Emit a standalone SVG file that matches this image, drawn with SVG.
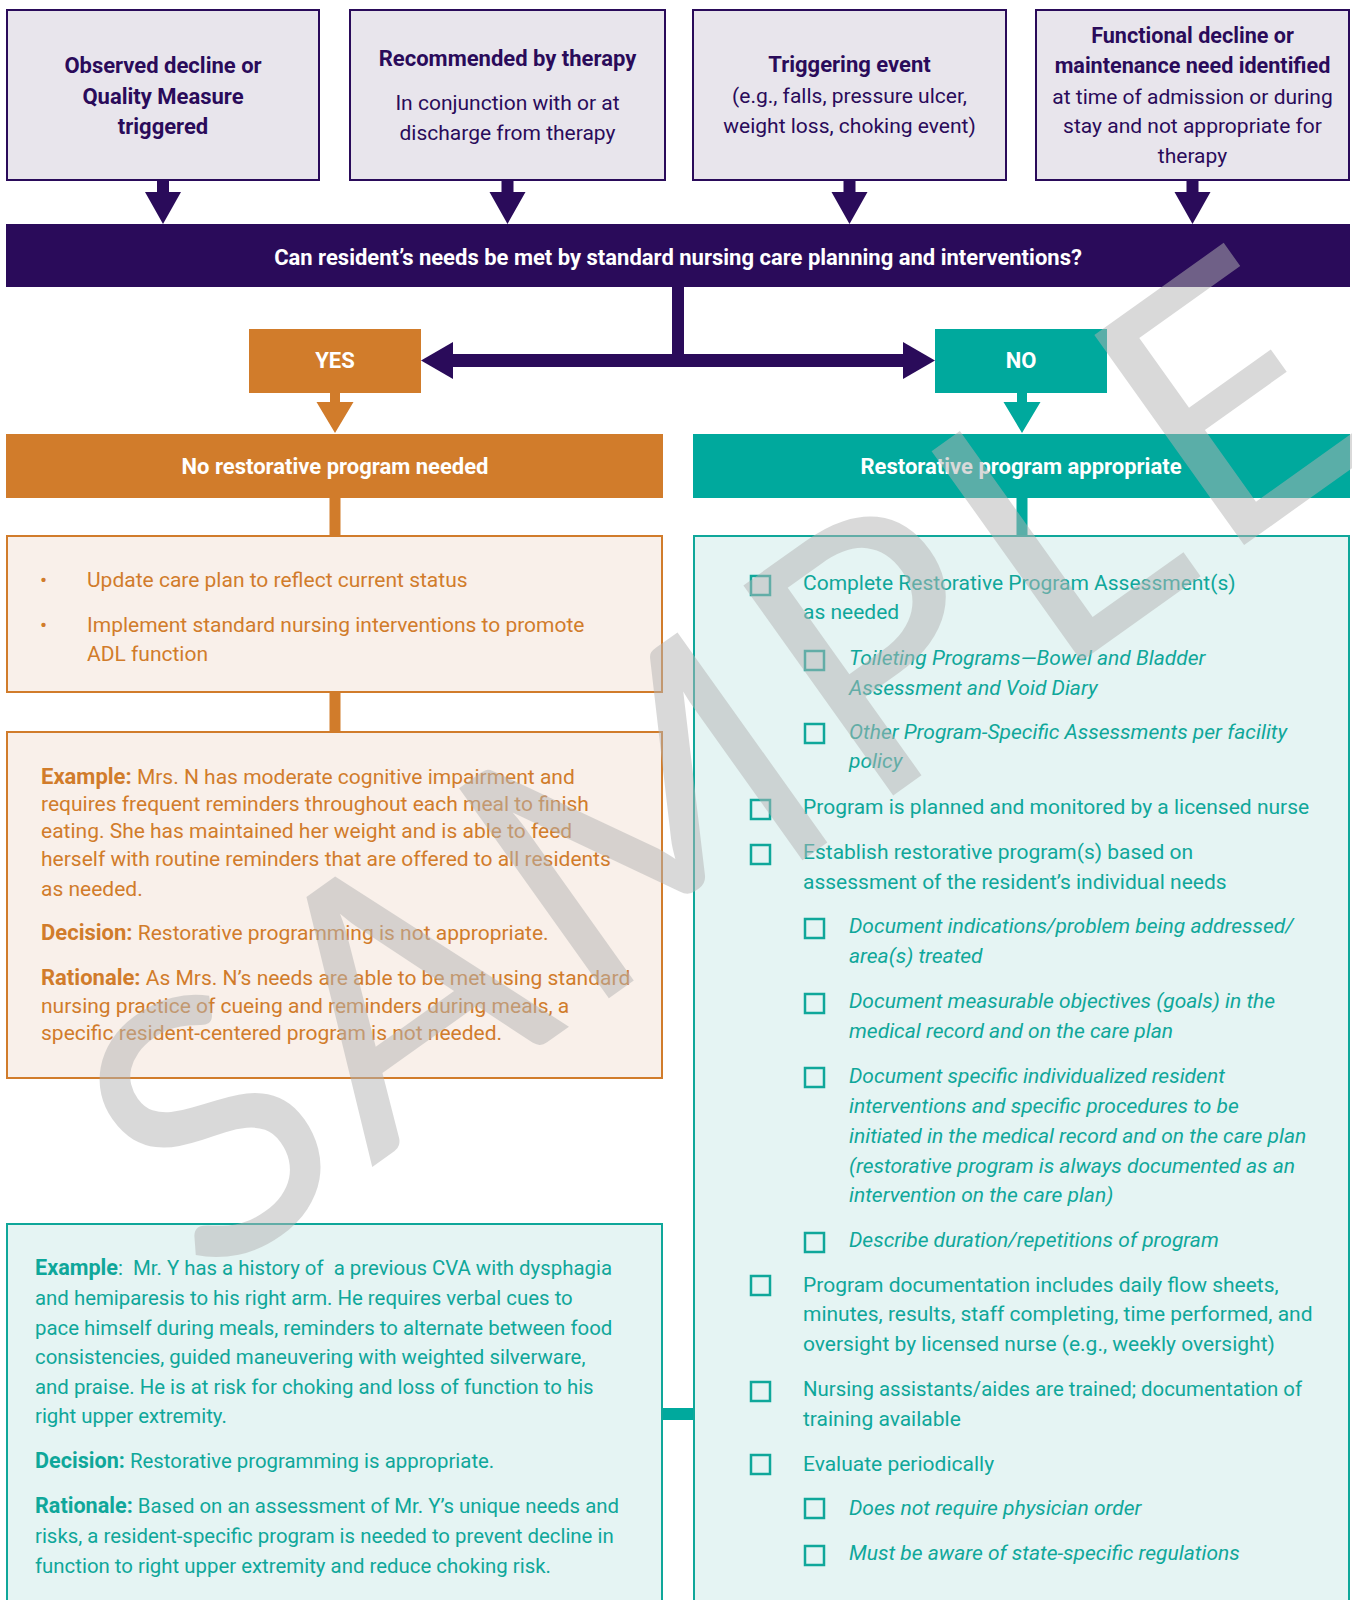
<svg xmlns="http://www.w3.org/2000/svg" width="1352" height="1600" viewBox="0 0 1352 1600">
<style>
.t{font-family:Roboto,"Liberation Sans",sans-serif;font-size:21px}
.c{text-anchor:middle}
.b{font-weight:700}
.h{font-size:22px}
.i{font-style:italic}
.s{font-size:20.4px}
.bs{font-weight:700;font-size:21.6px}
.pur{fill:#2A0B5A}
.org{fill:#D17C2B}
.tea{fill:#0FA79A}
.wh{fill:#fff}
.src{fill:#E8E5EC;stroke:#2A0B5A;stroke-width:2}
.cb{fill:none;stroke:#0FA79A;stroke-width:2.5}
.peach{fill:#F9F0EA;stroke:#D17C2B;stroke-width:2}
.lt{fill:#E5F4F3;stroke:#0FA79A;stroke-width:2}
</style>
<rect width="1352" height="1600" fill="#fff"/>
<g id="connectors">
<g fill="#2A0B5A">
<polygon points="157,181 169,181 169,192 181,192 163,224 145,192 157,192"/>
<polygon points="501.5,181 513.5,181 513.5,192 525.5,192 507.5,224 489.5,192 501.5,192"/>
<polygon points="843.5,181 855.5,181 855.5,192 867.5,192 849.5,224 831.5,192 843.5,192"/>
<polygon points="1186.5,181 1198.5,181 1198.5,192 1210.5,192 1192.5,224 1174.5,192 1186.5,192"/>
<rect x="672" y="287" width="12" height="80"/>
<rect x="453" y="354" width="450" height="13"/>
<polygon points="453,342 453,379 421,360.5"/>
<polygon points="903,342 903,379 935,360.5"/>
</g>
<g fill="#D17C2B">
<polygon points="330,393 340,393 340,402 353.5,402 335,433 316.5,402 330,402"/>
<rect x="329.5" y="498" width="11" height="38"/>
<rect x="329.5" y="692" width="11" height="40"/>
</g>
<g fill="#00A99D">
<polygon points="1017,393 1027,393 1027,402 1040.5,402 1022,433 1003.5,402 1017,402"/>
<rect x="1016.5" y="498" width="11" height="38"/>
<rect x="662" y="1408" width="32" height="12"/>
</g>
</g>
<g id="src1"><rect class="src" x="7" y="10" width="312" height="170"/>
<text class="t c b h pur" x="163" y="73">Observed decline or</text>
<text class="t c b h pur" x="163" y="104">Quality Measure</text>
<text class="t c b h pur" x="163" y="134">triggered</text></g>
<g id="src2"><rect class="src" x="350" y="10" width="315" height="170"/>
<text class="t c b h pur" x="507.5" y="66">Recommended by therapy</text>
<text class="t c pur" x="507.5" y="110">In conjunction with or at</text>
<text class="t c pur" x="507.5" y="140">discharge from therapy</text></g>
<g id="src3"><rect class="src" x="693" y="10" width="313" height="170"/>
<text class="t c b h pur" x="849.5" y="72">Triggering event</text>
<text class="t c pur" x="849.5" y="103">(e.g., falls, pressure ulcer,</text>
<text class="t c pur" x="849.5" y="133">weight loss, choking event)</text></g>
<g id="src4"><rect class="src" x="1036" y="10" width="313" height="170"/>
<text class="t c b pur" x="1192.5" y="43" style="font-size:21.6px">Functional decline or</text>
<text class="t c b pur" x="1192.5" y="73" style="font-size:21.6px">maintenance need identified</text>
<text class="t c pur" x="1192.5" y="104">at time of admission or during</text>
<text class="t c pur" x="1192.5" y="133">stay and not appropriate for</text>
<text class="t c pur" x="1192.5" y="163">therapy</text></g>
<g id="question"><rect x="6" y="224" width="1344" height="63" fill="#2A0B5A"/>
<text class="t c b h wh" x="678" y="265">Can resident’s needs be met by standard nursing care planning and interventions?</text></g>
<g id="yes"><rect x="249" y="329" width="172" height="64" fill="#D17C2B"/>
<text class="t c b h wh" x="335" y="368">YES</text></g>
<g id="no"><rect x="935" y="329" width="172" height="64" fill="#00A99D"/>
<text class="t c b h wh" x="1021" y="368">NO</text></g>
<g id="no-program"><rect x="6" y="434" width="657" height="64" fill="#D17C2B"/>
<text class="t c b h wh" x="335" y="474">No restorative program needed</text></g>
<g id="program"><rect x="693" y="434" width="657" height="64" fill="#00A99D"/>
<text class="t c b h wh" x="1021" y="474">Restorative program appropriate</text></g>
<g id="standard-care"><rect class="peach" x="7" y="536" width="655" height="156"/>
<text class="t org" x="40" y="587">•</text>
<text class="t org" x="87" y="587">Update care plan to reflect current status</text>
<text class="t org" x="40" y="632">•</text>
<text class="t org" x="87" y="632">Implement standard nursing interventions to promote</text>
<text class="t org" x="87" y="661">ADL function</text></g>
<g id="example-n"><rect class="peach" x="7" y="732" width="655" height="346"/>
<text class="t org" x="41" y="784"><tspan class="b h">Example:</tspan> Mrs. N has moderate cognitive impairment and</text>
<text class="t org" x="41" y="811">requires frequent reminders throughout each meal to finish</text>
<text class="t org" x="41" y="838">eating. She has maintained her weight and is able to feed</text>
<text class="t org" x="41" y="866">herself with routine reminders that are offered to all residents</text>
<text class="t org" x="41" y="896">as needed.</text>
<text class="t org" x="41" y="940"><tspan class="b h">Decision:</tspan> Restorative programming is not appropriate.</text>
<text class="t org" x="41" y="985"><tspan class="b h">Rationale:</tspan> As Mrs. N’s needs are able to be met using standard</text>
<text class="t org" x="41" y="1013">nursing practice of cueing and reminders during meals, a</text>
<text class="t org" x="41" y="1040">specific resident-centered program is not needed.</text></g>
<g id="checklist"><rect class="lt" x="694" y="536" width="655" height="1100"/>
<rect class="cb" x="751" y="576" width="19" height="19"/>
<text class="t tea" x="803" y="590">Complete Restorative Program Assessment(s)</text>
<text class="t tea" x="803" y="619">as needed</text>
<rect class="cb" x="805" y="651" width="19" height="19"/>
<text class="t tea i" x="849" y="665">Toileting Programs—Bowel and Bladder</text>
<text class="t tea i" x="849" y="695">Assessment and Void Diary</text>
<rect class="cb" x="805" y="724" width="19" height="19"/>
<text class="t tea i" x="849" y="739">Other Program-Specific Assessments per facility</text>
<text class="t tea i" x="849" y="768">policy</text>
<rect class="cb" x="751" y="800" width="19" height="19"/>
<text class="t tea" x="803" y="814">Program is planned and monitored by a licensed nurse</text>
<rect class="cb" x="751" y="845" width="19" height="19"/>
<text class="t tea" x="803" y="859">Establish restorative program(s) based on</text>
<text class="t tea" x="803" y="889">assessment of the resident’s individual needs</text>
<rect class="cb" x="805" y="919" width="19" height="19"/>
<text class="t tea i" x="849" y="933">Document indications/problem being addressed/</text>
<text class="t tea i" x="849" y="963">area(s) treated</text>
<rect class="cb" x="805" y="994" width="19" height="19"/>
<text class="t tea i" x="849" y="1008">Document measurable objectives (goals) in the</text>
<text class="t tea i" x="849" y="1038">medical record and on the care plan</text>
<rect class="cb" x="805" y="1068" width="19" height="19"/>
<text class="t tea i" x="849" y="1083">Document specific individualized resident</text>
<text class="t tea i" x="849" y="1113">interventions and specific procedures to be</text>
<text class="t tea i" x="849" y="1143">initiated in the medical record and on the care plan</text>
<text class="t tea i" x="849" y="1173">(restorative program is always documented as an</text>
<text class="t tea i" x="849" y="1202">intervention on the care plan)</text>
<rect class="cb" x="805" y="1233" width="19" height="19"/>
<text class="t tea i" x="849" y="1247">Describe duration/repetitions of program</text>
<rect class="cb" x="751" y="1276" width="19" height="19"/>
<text class="t tea" x="803" y="1292">Program documentation includes daily flow sheets,</text>
<text class="t tea" x="803" y="1321">minutes, results, staff completing, time performed, and</text>
<text class="t tea" x="803" y="1351">oversight by licensed nurse (e.g., weekly oversight)</text>
<rect class="cb" x="751" y="1382" width="19" height="19"/>
<text class="t tea" x="803" y="1396" style="font-size:20.4px">Nursing assistants/aides are trained; documentation of</text>
<text class="t tea" x="803" y="1426">training available</text>
<rect class="cb" x="751" y="1455" width="19" height="19"/>
<text class="t tea" x="803" y="1471">Evaluate periodically</text>
<rect class="cb" x="805" y="1499" width="19" height="19"/>
<text class="t tea i" x="849" y="1515">Does not require physician order</text>
<rect class="cb" x="805" y="1546" width="19" height="19"/>
<text class="t tea i" x="849" y="1560">Must be aware of state-specific regulations</text></g>
<g id="example-y"><rect class="lt" x="7" y="1224" width="655" height="500"/>
<text class="t s tea" x="35" y="1275" style="white-space:pre"><tspan class="bs">Example</tspan>:  Mr. Y has a history of  a previous CVA with dysphagia</text>
<text class="t s tea" x="35" y="1305">and hemiparesis to his right arm. He requires verbal cues to</text>
<text class="t s tea" x="35" y="1335">pace himself during meals, reminders to alternate between food</text>
<text class="t s tea" x="35" y="1364">consistencies, guided maneuvering with weighted silverware,</text>
<text class="t s tea" x="35" y="1394">and praise. He is at risk for choking and loss of function to his</text>
<text class="t s tea" x="35" y="1423">right upper extremity.</text>
<text class="t s tea" x="35" y="1468"><tspan class="bs">Decision:</tspan> Restorative programming is appropriate.</text>
<text class="t s tea" x="35" y="1513"><tspan class="bs">Rationale:</tspan> Based on an assessment of Mr. Y’s unique needs and</text>
<text class="t s tea" x="35" y="1543">risks, a resident-specific program is needed to prevent decline in</text>
<text class="t s tea" x="35" y="1573">function to right upper extremity and reduce choking risk.</text></g>
<text id="watermark" transform="translate(204 1287) rotate(-35.5)" x="0" y="0" font-family="Lato, sans-serif" font-size="360" letter-spacing="15" fill="#B4B4B4" opacity="0.5">SAMPLE</text>
</svg>
